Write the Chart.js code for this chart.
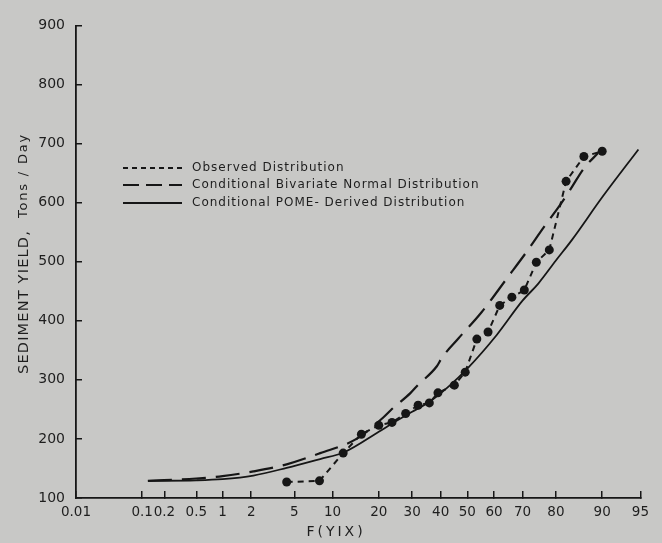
<!DOCTYPE html>
<html>
<head>
<meta charset="utf-8">
<script src="https://cdn.jsdelivr.net/npm/chart.js@4.4.1/dist/chart.umd.min.js"></script>
<style>
  html, body { margin: 0; padding: 0; background: #c8c8c6; }
  #wrap { width: 662px; height: 543px; position: relative; }
</style>
</head>
<body>
<div id="wrap"><canvas id="chart" width="662" height="543"></canvas></div>
<script>
// F(Y|X) in percent, sediment yield in tons/day
var obsF = [4.3, 8.0, 11.9, 15.7, 20.0, 23.7, 27.9, 32.0, 35.9, 39.0, 45.1, 49.2, 53.6, 57.8, 62.1, 66.4, 70.6, 74.4, 78.2, 82.6, 86.6, 90.0];
var obsY = [127, 129, 176, 208, 223, 228, 243, 257, 261, 278, 291, 313, 369, 381, 426, 440, 452, 499, 520, 636, 678, 687];

// conditional bivariate normal
var bvnF = [0.12, 0.5, 1.0, 2.1, 4.3, 8.1, 14.6, 21.5, 23.4, 29.5, 31.7, 38.6, 40.4, 46.6, 55.3, 65.0, 71.1, 76.7, 81.2, 83.6, 86.6, 89.3];
var bvnY = [129, 133, 137, 145, 157, 176, 200, 238, 249, 278, 290, 323, 337, 370, 414, 474, 515, 559, 597, 622, 658, 684];

// conditional POME-derived
var pomeF = [0.12, 0.5, 1.0, 2.1, 4.3, 8.1, 12.0, 20.0, 24.0, 30.0, 36.0, 43.0, 50.0, 61.0, 70.0, 75.0, 80.0, 84.0, 90.0, 94.8];
var pomeY = [129, 130, 132, 138, 151, 166, 177, 212, 227, 246, 263, 289, 319, 376, 434, 463, 502, 537, 609, 690];

var xTickValues = [0.01, 0.1, 0.2, 0.5, 1, 2, 5, 10, 20, 30, 40, 50, 60, 70, 80, 90, 95];
var xTickLabels = ['0.01', '0.1', '0.2', '0.5', '1', '2', '5', '10', '20', '30', '40', '50', '60', '70', '80', '90', '95'];

var legendLabels = ['Observed Distribution', 'Conditional Bivariate Normal Distribution', 'Conditional POME- Derived Distribution'];

var ink = '#161616';

// inverse normal CDF (Acklam) -> normal probability paper
function probit(p) {
    var a = [-3.969683028665376e+01, 2.209460984245205e+02, -2.759285104469687e+02, 1.383577518672690e+02, -3.066479806614716e+01, 2.506628277459239e+00];
    var b = [-5.447609879822406e+01, 1.615858368580409e+02, -1.556989798598866e+02, 6.680131188771972e+01, -1.328068155288572e+01];
    var c = [-7.784894002430293e-03, -3.223964580411365e-01, -2.400758277161838e+00, -2.549732539343734e+00, 4.374664141464968e+00, 2.938163982698783e+00];
    var d = [7.784695709041462e-03, 3.224671290700398e-01, 2.445134137142996e+00, 3.754408661907416e+00];
    var pl = 0.02425, q, r;
    if (p < pl) {
        q = Math.sqrt(-2 * Math.log(p));
        return (((((c[0]*q+c[1])*q+c[2])*q+c[3])*q+c[4])*q+c[5]) / ((((d[0]*q+d[1])*q+d[2])*q+d[3])*q+1);
    }
    if (p > 1 - pl) {
        q = Math.sqrt(-2 * Math.log(1 - p));
        return -(((((c[0]*q+c[1])*q+c[2])*q+c[3])*q+c[4])*q+c[5]) / ((((d[0]*q+d[1])*q+d[2])*q+d[3])*q+1);
    }
    q = p - 0.5; r = q * q;
    return (((((a[0]*r+a[1])*r+a[2])*r+a[3])*r+a[4])*r+a[5])*q / (((((b[0]*r+b[1])*r+b[2])*r+b[3])*r+b[4])*r+1);
}

function toPoints(fs, ys) {
    return fs.map(function (f, i) { return { x: probit(f / 100), y: ys[i] }; });
}

// legend + axis titles drawn straight on the canvas
var extras = {
    id: 'extras',
    afterDraw: function (chart) {
        var ctx = chart.ctx;
        ctx.save();
        ctx.fillStyle = '#1e1e1e';
        ctx.textBaseline = 'middle';

        // legend
        var rows = [168, 185, 203];
        ctx.font = '12px "DejaVu Sans"';
        ctx.letterSpacing = '1px';
        rows.forEach(function (yy, i) {
            ctx.beginPath();
            ctx.setLineDash(i === 0 ? [5, 4] : i === 1 ? [16, 7] : []);
            ctx.strokeStyle = ink;
            ctx.lineWidth = 2;
            ctx.moveTo(123, yy);
            ctx.lineTo(182, yy);
            ctx.stroke();
            ctx.textAlign = 'left';
            ctx.fillText(legendLabels[i], 192, yy);
        });
        ctx.setLineDash([]);

        // x title
        ctx.font = '14px "DejaVu Sans"';
        ctx.letterSpacing = '3px';
        ctx.textAlign = 'center';
        ctx.fillText('F(YIX)', 336, 532);

        // y title
        ctx.translate(24, 374);
        ctx.rotate(-Math.PI / 2);
        ctx.textAlign = 'left';
        ctx.font = '14.5px "DejaVu Sans"';
        ctx.letterSpacing = '1.2px';
        var t1 = 'SEDIMENT YIELD,';
        ctx.fillText(t1, 0, 0);
        var w1 = ctx.measureText(t1).width;
        ctx.font = '13px "DejaVu Sans"';
        ctx.letterSpacing = '1.8px';
        ctx.fillText('Tons / Day', w1 + 12, 0);
        ctx.restore();
    }
};

var ctx = document.getElementById('chart').getContext('2d');
var chart = new Chart(ctx, {
    type: 'line',
    data: {
        datasets: [
            {
                label: legendLabels[0],
                data: toPoints(obsF, obsY),
                borderColor: ink,
                borderWidth: 2,
                borderDash: [6, 5],
                pointRadius: 4.5,
                pointBackgroundColor: ink,
                pointBorderWidth: 0,
                tension: 0
            },
            {
                label: legendLabels[1],
                data: toPoints(bvnF, bvnY),
                borderColor: ink,
                borderWidth: 2.2,
                borderDash: [24, 10],
                pointRadius: 0,
                cubicInterpolationMode: 'monotone'
            },
            {
                label: legendLabels[2],
                data: toPoints(pomeF, pomeY),
                borderColor: ink,
                borderWidth: 1.8,
                pointRadius: 0,
                cubicInterpolationMode: 'monotone'
            }
        ]
    },
    options: {
        responsive: false,
        animation: false,
        devicePixelRatio: 1,
        layout: { padding: { top: 11, right: 18, bottom: 0, left: 0 } },
        plugins: {
            legend: { display: false },
            tooltip: { enabled: false }
        },
        scales: {
            x: {
                type: 'linear',
                min: probit(0.0001),
                max: probit(0.95),
                afterBuildTicks: function (scale) {
                    scale.ticks = xTickValues.map(function (v) { return { value: probit(v / 100) }; });
                },
                afterFit: function (scale) { scale.height = 45; },
                ticks: {
                    autoSkip: false,
                    maxRotation: 0,
                    padding: 13,
                    color: '#1e1e1e',
                    font: { family: 'DejaVu Sans', size: 13.5 },
                    callback: function (value, index) { return xTickLabels[index]; }
                },
                grid: { drawOnChartArea: false, tickLength: -7, color: ink, lineWidth: 1.5 },
                border: { color: ink, width: 1.8 }
            },
            y: {
                min: 100,
                max: 900,
                afterFit: function (scale) { scale.width = 76; },
                ticks: {
                    stepSize: 100,
                    padding: 17,
                    color: '#1e1e1e',
                    font: { family: 'DejaVu Sans', size: 14 }
                },
                grid: { drawOnChartArea: false, tickLength: -6, color: ink, lineWidth: 1.5 },
                border: { color: ink, width: 1.8 }
            }
        }
    },
    plugins: [extras]
});
</script>
</body>
</html>
